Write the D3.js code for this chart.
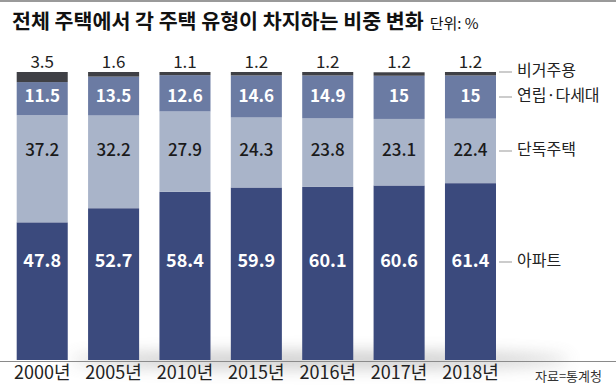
<!DOCTYPE html>
<html>
<head>
<meta charset="utf-8">
<script src="https://cdn.jsdelivr.net/npm/d3@7"></script>
<style>
  body { margin: 0; background: #fff; }
  text { font-family: "Noto Sans CJK KR", "Noto Sans", sans-serif; }
</style>
</head>
<body>
<div id="chart"></div>
<script>
const years = ['2000년', '2005년', '2010년', '2015년', '2016년', '2017년', '2018년'];
const apt = [47.8, 52.7, 58.4, 59.9, 60.1, 60.6, 61.4];
const detached = [37.2, 32.2, 27.9, 24.3, 23.8, 23.1, 22.4];
const multi = [11.5, 13.5, 12.6, 14.6, 14.9, 15, 15];
const nonres = [3.5, 1.6, 1.1, 1.2, 1.2, 1.2, 1.2];
const seriesNames = ['아파트', '단독주택', '연립·다세대', '비거주용'];

const width = 616, height = 385;
const colors = ['#3b4a7d', '#a9b4c9', '#6b7ba3', '#3f4045'];

const svg = d3.select('#chart').append('svg')
  .attr('width', width).attr('height', height);

const defs = svg.append('defs');
const blur = defs.append('filter').attr('id', 'blur')
  .attr('x', '-20%').attr('y', '-200%').attr('width', '140%').attr('height', '500%');
blur.append('feGaussianBlur').attr('stdDeviation', 8);

// top rule
svg.append('rect').attr('x', 0).attr('y', 0).attr('width', width).attr('height', 2)
  .attr('fill', '#9a9a9a');

svg.append('text')
  .attr('x', 12).attr('y', 29)
  .attr('font-size', 20.6).attr('font-weight', 700).attr('fill', '#111')
  .text('전체 주택에서 각 주택 유형이 차지하는 비중 변화')
  .append('tspan').attr('dx', 6).attr('font-size', 15).attr('font-weight', 400)
  .text('단위: %');

const data = years.map((y, i) => ({
  year: y,
  '아파트': apt[i], '단독주택': detached[i], '연립·다세대': multi[i], '비거주용': nonres[i]
}));

const x = d3.scaleBand().domain(years).range([16.7, 496]).paddingInner(0.285).paddingOuter(0);
const y = d3.scaleLinear().domain([0, 100]).range([360, 72]);

const stack = d3.stack().keys(seriesNames)(data);

// soft shadow near the baseline
svg.append('ellipse')
  .attr('cx', 320).attr('cy', 360).attr('rx', 250).attr('ry', 8)
  .attr('fill', '#888').attr('opacity', 0.45).attr('filter', 'url(#blur)');

svg.append('g').selectAll('g')
  .data(stack).join('g')
  .attr('fill', (d, i) => colors[i])
  .selectAll('rect')
  .data(d => d).join('rect')
  .attr('x', d => x(d.data.year))
  .attr('y', d => y(d[1]))
  .attr('width', x.bandwidth())
  .attr('height', d => y(d[0]) - y(d[1]));

// axis line
svg.append('line').attr('x1', 0).attr('x2', width).attr('y1', 361.5).attr('y2', 361.5)
  .attr('stroke', '#8a8a8a').attr('stroke-width', 1);

const xAxis = svg.append('g').attr('transform', 'translate(0,366)')
  .call(d3.axisBottom(x).tickSize(0).tickPadding(0));
xAxis.select('.domain').remove();
xAxis.selectAll('text')
  .attr('font-size', 18).attr('fill', '#222')
  .style('font-family', '"Noto Sans CJK KR", sans-serif');

// value labels in fixed rows
const rows = [
  { vals: apt, y: 262, fill: '#fff', weight: 700, size: 18 },
  { vals: detached, y: 151, fill: '#1a1a1a', weight: 500, size: 17 },
  { vals: multi, y: 97, fill: '#fff', weight: 700, size: 17 },
  { vals: nonres, y: 63, fill: '#222', weight: 400, size: 17 }
];
rows.forEach(r => {
  svg.append('g').selectAll('text')
    .data(r.vals).join('text')
    .attr('x', (d, i) => x(years[i]) + x.bandwidth() / 2)
    .attr('y', r.y)
    .attr('text-anchor', 'middle').attr('dominant-baseline', 'middle')
    .attr('font-size', r.size).attr('font-weight', r.weight).attr('fill', r.fill)
    .text(d => d);
});

// legend on the right
const legendY = [262, 151, 97, 72];
const lg = svg.append('g').selectAll('g')
  .data(seriesNames).join('g')
  .attr('transform', (d, i) => `translate(499,${legendY[i]})`);
lg.append('line').attr('x1', 0).attr('x2', 13).attr('stroke', '#999');
lg.append('text').attr('x', 18).attr('dominant-baseline', 'middle')
  .attr('font-size', 16).attr('fill', '#222').text(d => d);

svg.append('text').attr('x', 602).attr('y', 377)
  .attr('text-anchor', 'end').attr('dominant-baseline', 'middle')
  .attr('font-size', 13).attr('fill', '#333').text('자료=통계청');
</script>
</body>
</html>
